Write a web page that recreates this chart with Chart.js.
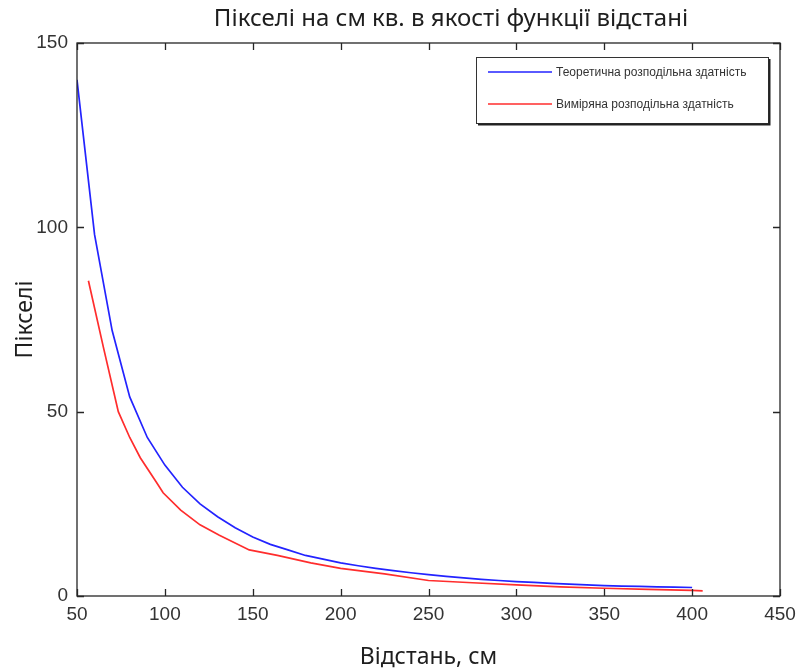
<!DOCTYPE html>
<html>
<head>
<meta charset="utf-8">
<script src="https://cdn.jsdelivr.net/npm/chart.js@4.4.1/dist/chart.umd.min.js"></script>
<style>
    html, body { margin: 0; padding: 0; background: #fff; }
    #wrap { width: 796px; height: 671px; }
</style>
</head>
<body>
<div id="wrap"><canvas id="pikseliChart" width="796" height="671"></canvas></div>
<script>
// теоретична роздільна здатність, крок 10 см
const distTeor = [50, 60, 70, 80, 90, 100, 110, 120, 130, 140, 150, 160, 170, 180, 190, 200,
    210, 220, 230, 240, 250, 260, 270, 280, 290, 300, 310, 320, 330, 340, 350, 360, 370, 380, 390, 400];
const pixTeor = [140, 98, 72, 54, 43, 35.5, 29.5, 25, 21.5, 18.5, 16, 14, 12.5, 11, 10, 9,
    8.2, 7.5, 6.9, 6.3, 5.8, 5.3, 4.9, 4.5, 4.2, 3.9, 3.7, 3.4, 3.2, 3.0, 2.8, 2.7, 2.6, 2.5, 2.4, 2.3];

// виміряна роздільна здатність
const distVym = [56.5, 65, 73.5, 80, 86, 95, 99, 109, 120, 131, 148, 164, 183, 200,
    225, 250, 275, 300, 325, 350, 375, 400, 406];
const pixVym = [85.5, 67.5, 50, 43, 37.5, 31, 28, 23.3, 19.3, 16.5, 12.5, 11, 9, 7.5,
    6, 4.2, 3.6, 3.0, 2.5, 2.1, 1.8, 1.5, 1.4];

const seriesNames = ['Теоретична розподільна здатність', 'Виміряна розподільна здатність'];
const xTicks = [50, 100, 150, 200, 250, 300, 350, 400, 450];
const yTicks = [0, 50, 100, 150];

const titleText = 'Пікселі на см кв. в якості функції відстані';
const xLabel = 'Відстань, см';
const yLabel = 'Пікселі';

const axisColor = '#262626';
const labelFont = '"Noto Sans", "Open Sans", sans-serif';

function toPoints(xs, ys) {
    return xs.map((x, i) => ({ x: x, y: ys[i] }));
}

// рамка, внутрішні риски, легенда, заголовок
const framePlugin = {
    id: 'frame',
    afterDraw(chart) {
        const ctx = chart.ctx;
        const a = chart.chartArea;
        const sx = chart.scales.x;
        const sy = chart.scales.y;
        const tl = 7;

        ctx.save();
        ctx.strokeStyle = axisColor;
        ctx.lineWidth = 1.3;
        ctx.strokeRect(a.left, a.top, a.right - a.left, a.bottom - a.top);

        ctx.beginPath();
        xTicks.forEach(v => {
            const px = Math.round(sx.getPixelForValue(v)) + 0.5;
            ctx.moveTo(px, a.bottom); ctx.lineTo(px, a.bottom - tl);
            ctx.moveTo(px, a.top); ctx.lineTo(px, a.top + tl);
        });
        yTicks.forEach(v => {
            const py = Math.round(sy.getPixelForValue(v)) + 0.5;
            ctx.moveTo(a.left, py); ctx.lineTo(a.left + tl, py);
            ctx.moveTo(a.right, py); ctx.lineTo(a.right - tl, py);
        });
        ctx.stroke();

        // заголовок над осями
        ctx.fillStyle = '#1e1e1e';
        ctx.font = '24px ' + labelFont;
        ctx.textAlign = 'center';
        ctx.textBaseline = 'middle';
        ctx.fillText(titleText, 451, 19);

        // легенда
        const lx = 476, ly = 57, lw = 292, lh = 66;
        ctx.fillStyle = '#ffffff';
        ctx.fillRect(lx, ly, lw, lh);
        ctx.lineWidth = 1;
        ctx.strokeStyle = '#333';
        ctx.strokeRect(lx + 0.5, ly + 0.5, lw, lh);
        ctx.lineWidth = 2;
        ctx.strokeStyle = '#222';
        ctx.beginPath();
        ctx.moveTo(lx + lw + 1.5, ly + 2); ctx.lineTo(lx + lw + 1.5, ly + lh + 1.5);
        ctx.lineTo(lx + 2, ly + lh + 1.5);
        ctx.stroke();

        ctx.font = '12px "Liberation Sans", Arial, sans-serif';
        ctx.textAlign = 'left';
        ctx.textBaseline = 'middle';
        chart.data.datasets.forEach((ds, i) => {
            const yy = ly + 15 + i * 32;
            ctx.strokeStyle = ds.borderColor;
            ctx.lineWidth = 1.6;
            ctx.beginPath();
            ctx.moveTo(lx + 12, yy); ctx.lineTo(lx + 76, yy);
            ctx.stroke();
            ctx.fillStyle = '#333';
            ctx.fillText(ds.label, lx + 80, yy + 1);
        });
        ctx.restore();
    }
};

new Chart(document.getElementById('pikseliChart'), {
    type: 'line',
    data: {
        datasets: [{
            label: seriesNames[0],
            data: toPoints(distTeor, pixTeor),
            borderColor: 'rgb(35, 35, 255)',
            borderWidth: 1.7,
            pointRadius: 0,
            tension: 0
        }, {
            label: seriesNames[1],
            data: toPoints(distVym, pixVym),
            borderColor: 'rgb(255, 45, 45)',
            borderWidth: 1.7,
            pointRadius: 0,
            tension: 0
        }]
    },
    options: {
        responsive: false,
        animation: false,
        layout: { padding: { top: 43, right: 16, left: 0, bottom: 0 } },
        plugins: {
            legend: { display: false },
            tooltip: { enabled: false },
            title: { display: false }
        },
        scales: {
            x: {
                type: 'linear',
                min: 50,
                max: 450,
                afterFit: s => { s.height = 75; s.paddingRight = 0; s.paddingLeft = 0; },
                afterBuildTicks: s => { s.ticks = xTicks.map(v => ({ value: v })); },
                grid: { display: false, drawTicks: false },
                border: { display: false },
                ticks: {
                    color: '#333',
                    padding: 7,
                    maxRotation: 0,
                    autoSkip: false,
                    font: { family: '"Liberation Sans", Arial, sans-serif', size: 19 }
                },
                title: {
                    display: true,
                    text: xLabel,
                    color: '#1e1e1e',
                    padding: { top: 0, bottom: 0 },
                    font: { family: labelFont, size: 23 }
                }
            },
            y: {
                min: 0,
                max: 150,
                afterFit: s => { s.width = 77; s.paddingTop = 0; s.paddingBottom = 0; },
                afterBuildTicks: s => { s.ticks = yTicks.map(v => ({ value: v })); },
                grid: { display: false, drawTicks: false },
                border: { display: false },
                ticks: {
                    color: '#333',
                    padding: 9,
                    font: { family: '"Liberation Sans", Arial, sans-serif', size: 19 }
                },
                title: {
                    display: true,
                    text: yLabel,
                    color: '#1e1e1e',
                    padding: { top: 12, bottom: 0 },
                    font: { family: labelFont, size: 23 }
                }
            }
        }
    },
    plugins: [framePlugin]
});
</script>
</body>
</html>
